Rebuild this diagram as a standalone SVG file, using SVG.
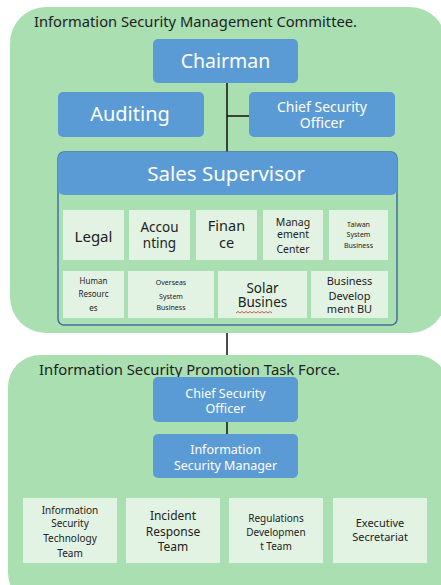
<svg xmlns="http://www.w3.org/2000/svg" width="441" height="585" viewBox="0 0 441 585">
<style>
text{font-family:"Noto Sans","Open Sans","DejaVu Sans",sans-serif;text-anchor:middle}
.panel{fill:#A9DFB1}
.blue{fill:#5B9BD5}
.lt{fill:#E2F3E3}
.w{fill:#fff}
.d{fill:#222}
.title{text-anchor:start;font-size:14px;fill:#222}
.ln{stroke:#111;stroke-width:1.5;fill:none}
</style>
<rect width="441" height="585" fill="#fff"/>
<g id="committee">
<rect class="panel" x="10" y="7" width="436" height="326" rx="36"/>
<text class="title" x="34" y="27" textLength="323" lengthAdjust="spacingAndGlyphs">Information Security Management Committee.</text>
</g>
<g id="taskforce">
<rect class="panel" x="8" y="355" width="440" height="250" rx="32"/>
<text class="title" x="39" y="375" textLength="301" lengthAdjust="spacingAndGlyphs">Information Security Promotion Task Force.</text>
</g>
<g id="connectors">
<path class="ln" d="M227 83V152M227 116H249M227 333V355M227 422V434"/>
</g>
<g id="chairman"><rect class="blue" x="153" y="39" width="145" height="44" rx="5"/><text class="w" x="225.5" y="68" font-size="19.5">Chairman</text></g>
<g id="auditing"><rect class="blue" x="58" y="92" width="146" height="45" rx="5"/><text class="w" x="130" y="121" font-size="20">Auditing</text></g>
<g id="cso1"><rect class="blue" x="249" y="92" width="146" height="45" rx="5"/><text class="w" x="322" y="112" font-size="14">Chief Security</text><text class="w" x="322" y="128" font-size="14">Officer</text></g>
<g id="sales">
<rect x="58" y="152" width="339" height="173" rx="6" fill="none" stroke="#41719C" stroke-width="1.5"/>
<rect class="blue" x="58" y="152" width="339" height="43" rx="6"/>
<text class="w" x="226" y="181" font-size="20.5">Sales Supervisor</text>
</g>
<g id="legal"><rect class="lt" x="63" y="210" width="61" height="50"/><text class="d" x="93.5" y="242" font-size="15">Legal</text></g>
<g id="accounting"><rect class="lt" x="129" y="210" width="61" height="50"/><text class="d" x="159.5" y="232" font-size="13.5">Accou</text><text class="d" x="159.5" y="248" font-size="13.5">nting</text></g>
<g id="finance"><rect class="lt" x="196" y="210" width="61" height="50"/><text class="d" x="226.5" y="231" font-size="14.5">Finan</text><text class="d" x="226.5" y="248" font-size="14.5">ce</text></g>
<g id="mgmt"><rect class="lt" x="263" y="210" width="60" height="50"/><text class="d" x="293" y="225.5" font-size="10.5">Manag</text><text class="d" x="293" y="238" font-size="10.5">ement</text><text class="d" x="293" y="253" font-size="10.5">Center</text></g>
<g id="taiwan"><rect class="lt" x="329" y="210" width="59" height="50"/><text class="d" x="358.5" y="226.5" font-size="7">Taiwan</text><text class="d" x="358.5" y="236.5" font-size="7">System</text><text class="d" x="358.5" y="247.5" font-size="7">Business</text></g>
<g id="hr"><rect class="lt" x="63" y="271" width="61" height="47"/><text class="d" x="93.5" y="284" font-size="8">Human</text><text class="d" x="93.5" y="297" font-size="8">Resourc</text><text class="d" x="93.5" y="311" font-size="8">es</text></g>
<g id="overseas"><rect class="lt" x="128" y="271" width="86" height="47"/><text class="d" x="171" y="284.5" font-size="7">Overseas</text><text class="d" x="171" y="298.5" font-size="7">System</text><text class="d" x="171" y="309.5" font-size="7">Business</text></g>
<g id="solar"><rect class="lt" x="218" y="271" width="89" height="47"/><text class="d" x="262.5" y="292.5" font-size="13.5">Solar</text><text class="d" x="262.5" y="307" font-size="13.5">Busines</text><path d="M236 313l2 -1.5l2 1.5l2 -1.5l2 1.5l2 -1.5l2 1.5l2 -1.5l2 1.5l2 -1.5l2 1.5l2 -1.5l2 1.5l2 -1.5l2 1.5l2 -1.5l2 1.5l2 -1.5l2 1.5" fill="none" stroke="#E04040" stroke-width="0.9"/></g>
<g id="bizdev"><rect class="lt" x="311" y="271" width="77" height="47"/><text class="d" x="349.5" y="285" font-size="11">Business</text><text class="d" x="349.5" y="300" font-size="11">Develop</text><text class="d" x="349.5" y="313" font-size="11">ment BU</text></g>
<g id="cso2"><rect class="blue" x="153" y="377" width="145" height="45" rx="5"/><text class="w" x="225.5" y="398" font-size="12.5">Chief Security</text><text class="w" x="225.5" y="413" font-size="12.5">Officer</text></g>
<g id="ism"><rect class="blue" x="153" y="434" width="145" height="44" rx="5"/><text class="w" x="225.5" y="454" font-size="12.5">Information</text><text class="w" x="225.5" y="470" font-size="12.5">Security Manager</text></g>
<g id="tech"><rect class="lt" x="23" y="498" width="94" height="65"/><text class="d" x="70" y="513.5" font-size="10">Information</text><text class="d" x="70" y="526.5" font-size="10">Security</text><text class="d" x="70" y="541.5" font-size="10">Technology</text><text class="d" x="70" y="556.5" font-size="10">Team</text></g>
<g id="incident"><rect class="lt" x="126" y="498" width="94" height="65"/><text class="d" x="173" y="520" font-size="12">Incident</text><text class="d" x="173" y="536" font-size="12">Response</text><text class="d" x="173" y="551" font-size="12">Team</text></g>
<g id="regs"><rect class="lt" x="229" y="498" width="94" height="65"/><text class="d" x="276" y="521.5" font-size="10">Regulations</text><text class="d" x="276" y="535.5" font-size="10">Developmen</text><text class="d" x="276" y="549.5" font-size="10">t Team</text></g>
<g id="exec"><rect class="lt" x="333" y="498" width="94" height="65"/><text class="d" x="380" y="527" font-size="11">Executive</text><text class="d" x="380" y="541" font-size="11">Secretariat</text></g>
</svg>
